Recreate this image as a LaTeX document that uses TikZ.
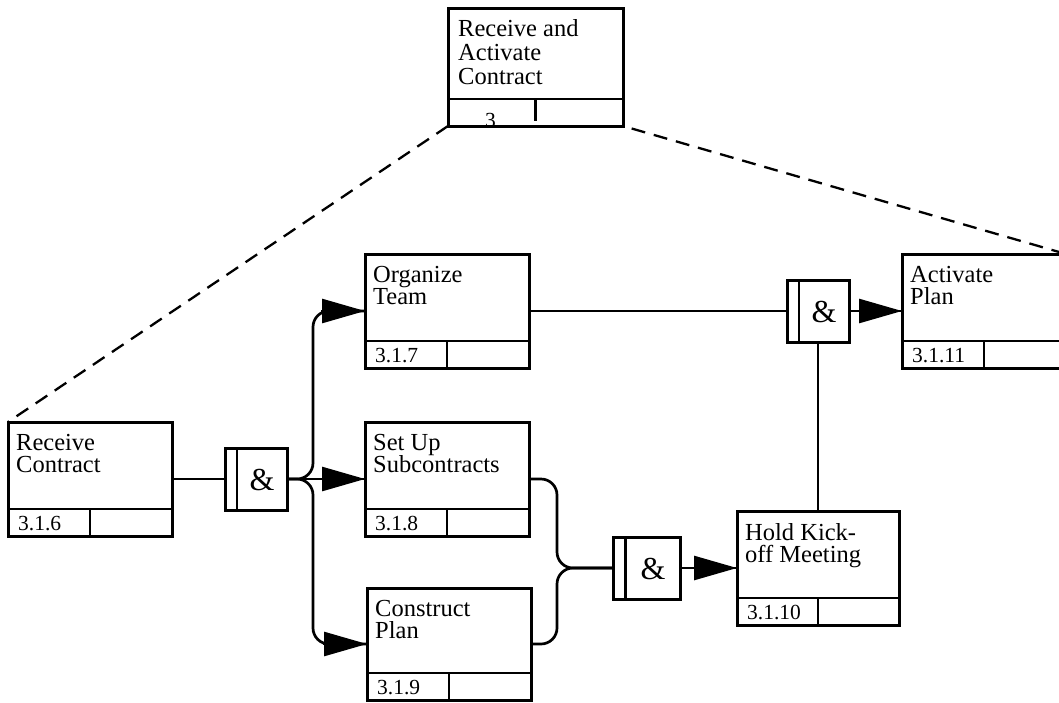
\documentclass[tikz,border=0pt]{standalone}
\usepackage{fontspec}
\setmainfont{Liberation Serif}
\usetikzlibrary{calc,arrows.meta}
\tikzset{
  actbox/.style={draw, line width=3pt, rectangle, inner sep=0pt, outer sep=0pt, anchor=north west},
  divline/.style={line width=2.8pt},
  titletxt/.style={inner sep=0pt, anchor=north west, align=left, font=\fontsize{24.5}{22.5}\selectfont},
  numtxt/.style={inner sep=0pt, anchor=base west, font=\fontsize{21.5}{22}\selectfont},
  gatebox/.style={draw, line width=3pt, rectangle, minimum width=62pt, minimum height=62pt, inner sep=0pt, outer sep=0pt},
  amptxt/.style={inner sep=0pt, font=\fontsize{32}{32}\selectfont},
  conn/.style={line width=2.7pt, rounded corners=16pt},
  arr/.style={line width=2.7pt, -{Triangle[length=43pt,width=24pt]}},
  dashln/.style={line width=2.3pt, dash pattern=on 14pt off 9pt},
}
\newcommand\activity[7]{%
  \node[actbox, minimum width=#4pt, minimum height=#5pt] (#1) at (#2,#3) {};
  \draw[divline] ($(#1.south west)+(0,-27)$) -- ($(#1.south east)+(0,-27)$);
  \draw[divline] ($(#1.south)+(0,-27)$) -- (#1.south);
  \node[titletxt] (#1-t) at ($(#1.north west)+(8,12)$) {#6};
  \node[numtxt] (#1-n) at ($(#1.south west)+(10,-6)$) {#7};
}
\newcommand\gate[4]{% name, x, y, width
  \node[gatebox, minimum width=#4pt] (#1) at (#2,#3) {};
  \draw[divline] ($(#1.north west)+(12,0)$) -- ($(#1.south west)+(12,0)$);
  \node[amptxt] (#1-a) at ($(#1.center)+(6,1)$) {\&};
}
\begin{document}
\begin{tikzpicture}[x=1pt,y=-1pt]
\useasboundingbox (0,0) rectangle (1059,702);
\clip (0,0) rectangle (1059,702);

% parent box
\node[actbox, minimum width=175pt, minimum height=118pt] (top) at (448,8) {};
\draw[divline] ($(top.south west)+(0,-27)$) -- ($(top.south east)+(0,-27)$);
\draw[divline] ($(top.south)+(0,-27)$) -- ($(top.south)+(0,-5)$);
\node[titletxt, font=\fontsize{24.5}{24}\selectfont] (top-t) at ($(top.north west)+(10,11)$) {Receive and\\Activate\\Contract};
\node[numtxt] (top-n) at ($(top.south west)+(37,1)$) {3};

\activity{rc}{8}{422}{164}{114}{Receive\\Contract}{3.1.6}
\activity{ot}{365}{254}{164}{114}{Organize\\Team}{3.1.7}
\activity{su}{365}{422}{164}{114}{Set Up\\Subcontracts}{3.1.8}
\activity{cp}{367}{588}{164}{112}{Construct\\Plan}{3.1.9}
\activity{hk}{737}{511}{162}{114}{Hold Kick-\\off Meeting}{3.1.10}
\activity{ap}{902}{254}{164}{114}{Activate\\Plan}{3.1.11}

\gate{g1}{256}{479}{62}
\gate{g2}{647}{568}{67}
\gate{g3}{818}{311}{62}

\coordinate (jl) at (313,0);
\coordinate (jr) at (557,0);

% connectors
\draw[conn] (rc.east) -- (g1.west);
\draw[conn] (g1.east) -- (su.west);
\draw[conn] (g1.east) -| (jl |- ot.west) -- (ot.west);
\draw[conn] (g1.east) -| (jl |- cp.west) -- (cp.west);
\draw[arr] ($(su.west)+(-44,0)$) -- (su.west);
\draw[arr] ($(ot.west)+(-44,0)$) -- (ot.west);
\draw[arr] ($(cp.west)+(-44,0)$) -- (cp.west);

\draw[conn] (su.east) -| (jr |- g2.west) -- (g2.west);
\draw[conn] (cp.east) -| (jr |- g2.west) -- (g2.west);

\draw[conn] (g2.east) -- (hk.west);
\draw[arr] ($(hk.west)+(-44,0)$) -- (hk.west);

\draw[conn] (hk.north) -- (g3.south);
\draw[conn] (ot.east) -- (g3.west);
\draw[conn] (g3.east) -- (ap.west);
\draw[arr] ($(ap.west)+(-44,0)$) -- (ap.west);

% decomposition lines
\draw[dashln] (top.south west) -- (rc.north west);
\draw[dashln, dash phase=14pt] (top.south east) -- (ap.north east);
\end{tikzpicture}
\end{document}
